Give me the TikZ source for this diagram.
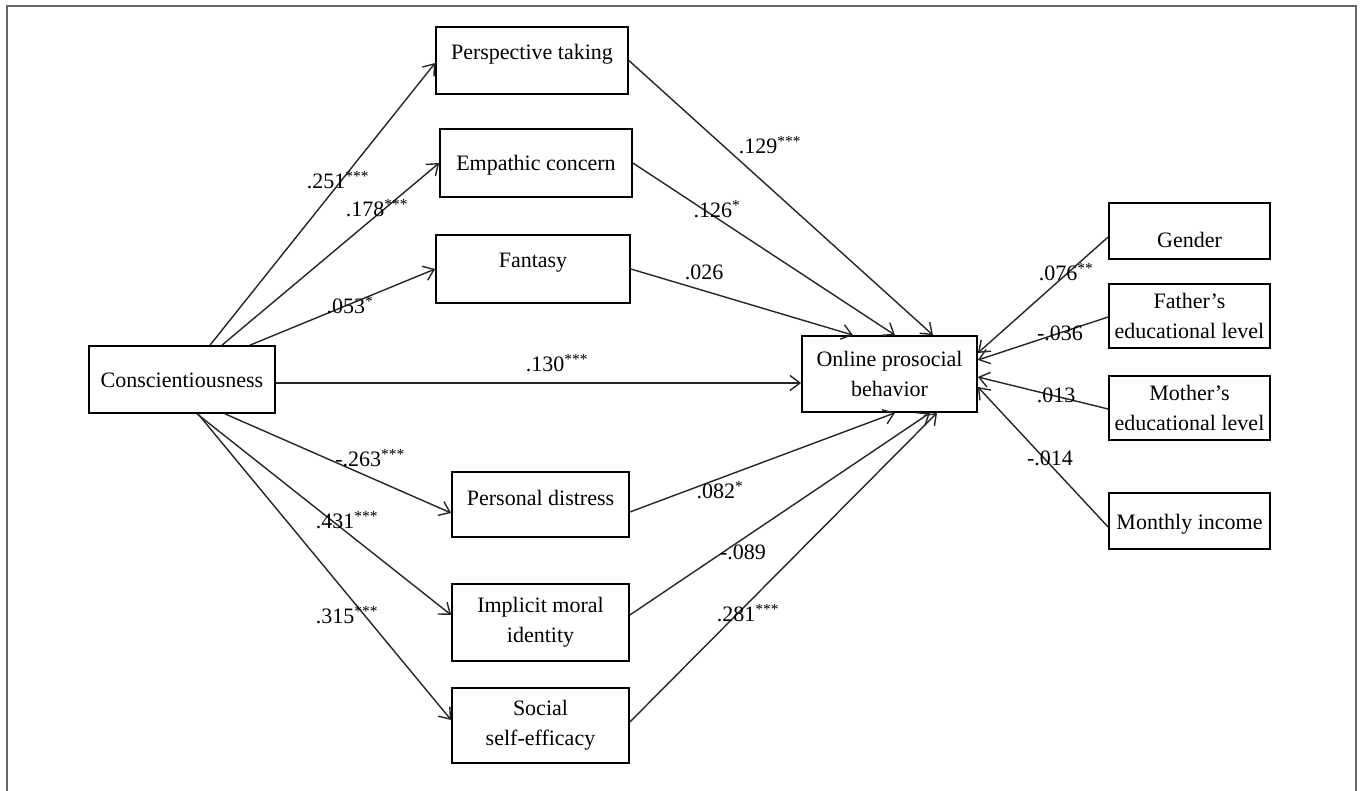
\documentclass[tikz,border=0pt]{standalone}
\usepackage{fontspec}
\setmainfont{Liberation Serif}
\usetikzlibrary{arrows.meta}
\newcommand{\btxt}[2]{\raisebox{#1pt}[0pt][0pt]{#2}}
\begin{document}
\begin{tikzpicture}[x=1pt,y=-1pt,
  box/.style={draw=black, line width=1.7pt, rectangle, inner sep=0pt, font=\fontsize{22}{30}\selectfont, align=center},
  conn/.style={draw=black!85, line width=1.4pt, -{Straight Barb[length=10pt,width=15pt,line width=1.4pt]}},
  lab/.style={font=\fontsize{22}{26}\selectfont, inner sep=0pt}]
\useasboundingbox[fill=white] (0,0) rectangle (1363,791);
\draw[black!60, line width=1.6pt] (7,791) -- (7,6) -- (1356,6) -- (1356,791);

% nodes
\node[box, minimum width=186pt, minimum height=67pt] (cons) at (182,379.5) {\btxt{-8}{Conscientiousness}};
\node[box, minimum width=192pt, minimum height=67pt] (pt) at (532,60.5) {\btxt{1}{Perspective taking}};
\node[box, minimum width=192pt, minimum height=68pt] (ec) at (536,163) {\btxt{-7.5}{Empathic concern}};
\node[box, minimum width=194pt, minimum height=68pt] (fa) at (533,269) {\btxt{1.5}{Fantasy}};
\node[box, minimum width=177pt, minimum height=65pt] (pd) at (540.5,504.5) {\btxt{-1}{Personal distress}};
\node[box, minimum width=177pt, minimum height=77pt] (im) at (540.5,622.5) {Implicit moral\\identity};
\node[box, minimum width=177pt, minimum height=75pt] (se) at (540.5,725.5) {Social\\self-efficacy};
\node[box, minimum width=175pt, minimum height=76pt] (op) at (889.5,374) {Online prosocial\\behavior};
\node[box, minimum width=161pt, minimum height=56pt] (ge) at (1189.5,231) {\btxt{-16.5}{Gender}};
\node[box, minimum width=161pt, minimum height=64pt] (fe) at (1189.5,316) {Father's\\educational level};
\node[box, minimum width=161pt, minimum height=64pt] (me) at (1189.5,408) {Mother's\\educational level};
\node[box, minimum width=161pt, minimum height=56pt] (mi) at (1189.5,521) {\btxt{-8.5}{Monthly income}};

% connectors from Conscientiousness
\draw[conn] ([xshift=28pt]cons.north) -- ([yshift=-2.5pt]pt.west);
\draw[conn] ([xshift=40pt]cons.north) -- (ec.west);
\draw[conn] ([xshift=68pt]cons.north) -- (fa.west);
\draw[conn] ([yshift=-3.5pt]cons.east) -- ([yshift=-3.5pt]cons.east -| op.west);
\draw[conn] ([xshift=43pt]cons.south) -- ([yshift=-8.5pt]pd.west);
\draw[conn] ([xshift=15pt]cons.south) -- ([yshift=7.5pt]im.west);
\draw[conn] ([xshift=16pt]cons.south) -- ([yshift=5.5pt]se.west);

% connectors into Online prosocial behavior
\draw[conn] (pt.east) -- ([xshift=43.5pt]op.north);
\draw[conn] (ec.east) -- ([xshift=5.5pt]op.north);
\draw[conn] (fa.east) -- ([xshift=-36.5pt]op.north);
\draw[conn] ([yshift=-7.5pt]pd.east) -- ([xshift=5.5pt]op.south);
\draw[conn] ([yshift=7.5pt]im.east) -- ([xshift=40.5pt]op.south);
\draw[conn] ([yshift=3.5pt]se.east) -- ([xshift=47.5pt]op.south);
\draw[conn] ([yshift=-6pt]ge.west) -- ([yshift=21pt]op.east);
\draw[conn] ([yshift=-1pt]fe.west) -- ([yshift=14pt]op.east);
\draw[conn] ([yshift=-1pt]me.west) -- ([yshift=-3pt]op.east);
\draw[conn] ([yshift=-6pt]mi.west) -- ([yshift=-13pt]op.east);

% labels
\node[lab] (l1) at (338,180) {.251\textsuperscript{***}};
\node[lab] (l2) at (377,208) {.178\textsuperscript{***}};
\node[lab] (l3) at (350,305) {.053\textsuperscript{*}};
\node[lab] (l4) at (557,363) {.130\textsuperscript{***}};
\node[lab] (l5) at (370,458) {-.263\textsuperscript{***}};
\node[lab] (l6) at (347,520) {.431\textsuperscript{***}};
\node[lab] (l7) at (347,615) {.315\textsuperscript{***}};
\node[lab] (l8) at (770,145) {.129\textsuperscript{***}};
\node[lab] (l9) at (717,209) {.126\textsuperscript{*}};
\node[lab] (l10) at (704,272) {.026};
\node[lab] (l11) at (1066,272) {.076\textsuperscript{**}};
\node[lab] (l12) at (1060,333) {-.036};
\node[lab] (l13) at (1056,395) {.013};
\node[lab] (l14) at (1050,458) {-.014};
\node[lab] (l15) at (720,490) {.082\textsuperscript{*}};
\node[lab] (l16) at (743,552) {-.089};
\node[lab] (l17) at (748,613) {.281\textsuperscript{***}};
\end{tikzpicture}
\end{document}
